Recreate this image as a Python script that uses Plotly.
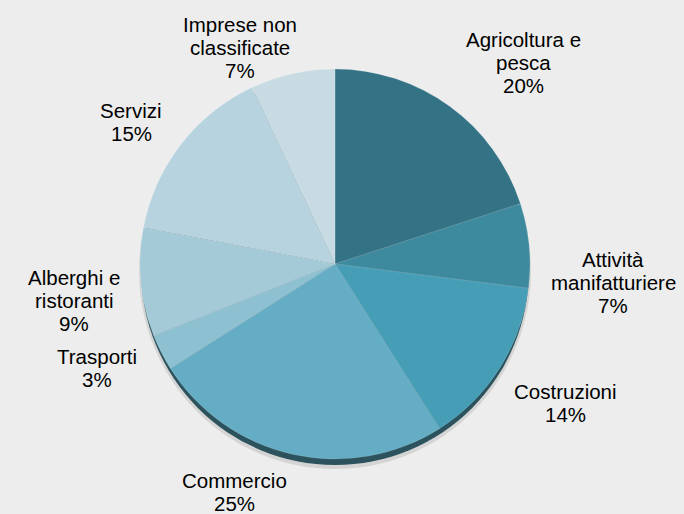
import plotly.graph_objects as go

categories = ["Agricoltura e pesca", "Attività manifatturiere", "Costruzioni", "Commercio",
              "Trasporti", "Alberghi e ristoranti", "Servizi", "Imprese non classificate"]
label_lines = [["Agricoltura e", "pesca"], ["Attività", "manifatturiere"], ["Costruzioni"],
               ["Commercio"], ["Trasporti"], ["Alberghi e", "ristoranti"], ["Servizi"],
               ["Imprese non", "classificate"]]
values = [20, 7, 14, 25, 3, 9, 15, 7]
colors = ["#347385", "#3D8A9E", "#459DB6", "#64ADC4", "#8DC0D0", "#A4CAD8", "#B6D3DF", "#C8DBE3"]

W, H = 684, 514
cx, cy, r = 335, 264, 195
FS = 20.5
LINE = 22.8

# label centre x and first-line baseline y (pixels, top-left origin)
label_pos = [(523, 47), (613, 267), (565, 399), (234, 488),
             (97, 364), (74, 285), (131, 118), (240, 32)]

fig = go.Figure()
fig.add_trace(go.Pie(
    labels=categories, values=values, sort=False, direction="clockwise", rotation=0,
    marker=dict(colors=colors, line=dict(width=0.6, color="rgba(255,255,255,0.25)")),
    textinfo="none", hoverinfo="label+percent", showlegend=False,
    domain=dict(x=[(cx - r) / W, (cx + r) / W], y=[(H - cy - r) / H, (H - cy + r) / H]),
))

# soft shadow and dark rim below the pie
fig.add_shape(type="circle", xref="paper", yref="paper", layer="below",
              x0=(cx - r - 1) / W, x1=(cx + r + 1) / W,
              y0=(H - cy - r - 10) / H, y1=(H - cy + r - 4) / H,
              fillcolor="rgba(0,0,0,0.10)", line=dict(width=0))
fig.add_shape(type="circle", xref="paper", yref="paper", layer="below",
              x0=(cx - r + 1) / W, x1=(cx + r - 1) / W,
              y0=(H - cy - r - 6) / H, y1=(H - cy + r - 6) / H,
              fillcolor="#2B525D", line=dict(width=0))

total = sum(values)
for lines, v, (x, y0) in zip(label_lines, values, label_pos):
    pct = round(100 * v / total)
    all_lines = lines + [f"{pct}%"]
    for i, t in enumerate(all_lines):
        base = y0 + i * LINE
        yc = base - 0.35 * FS
        fig.add_annotation(x=x / W, y=1 - yc / H, xref="paper", yref="paper",
                           text=t, showarrow=False, align="center",
                           xanchor="center", yanchor="middle",
                           font=dict(family="Liberation Sans, Arial", size=FS, color="#000000"))

fig.update_layout(width=W, height=H, margin=dict(l=0, r=0, t=0, b=0),
                  paper_bgcolor="#EDEDED", plot_bgcolor="#EDEDED")
fig.write_html("out.html", config={"displayModeBar": False},
               post_script="document.body.style.margin='0';document.body.style.background='#EDEDED';document.body.style.overflow='hidden';")
